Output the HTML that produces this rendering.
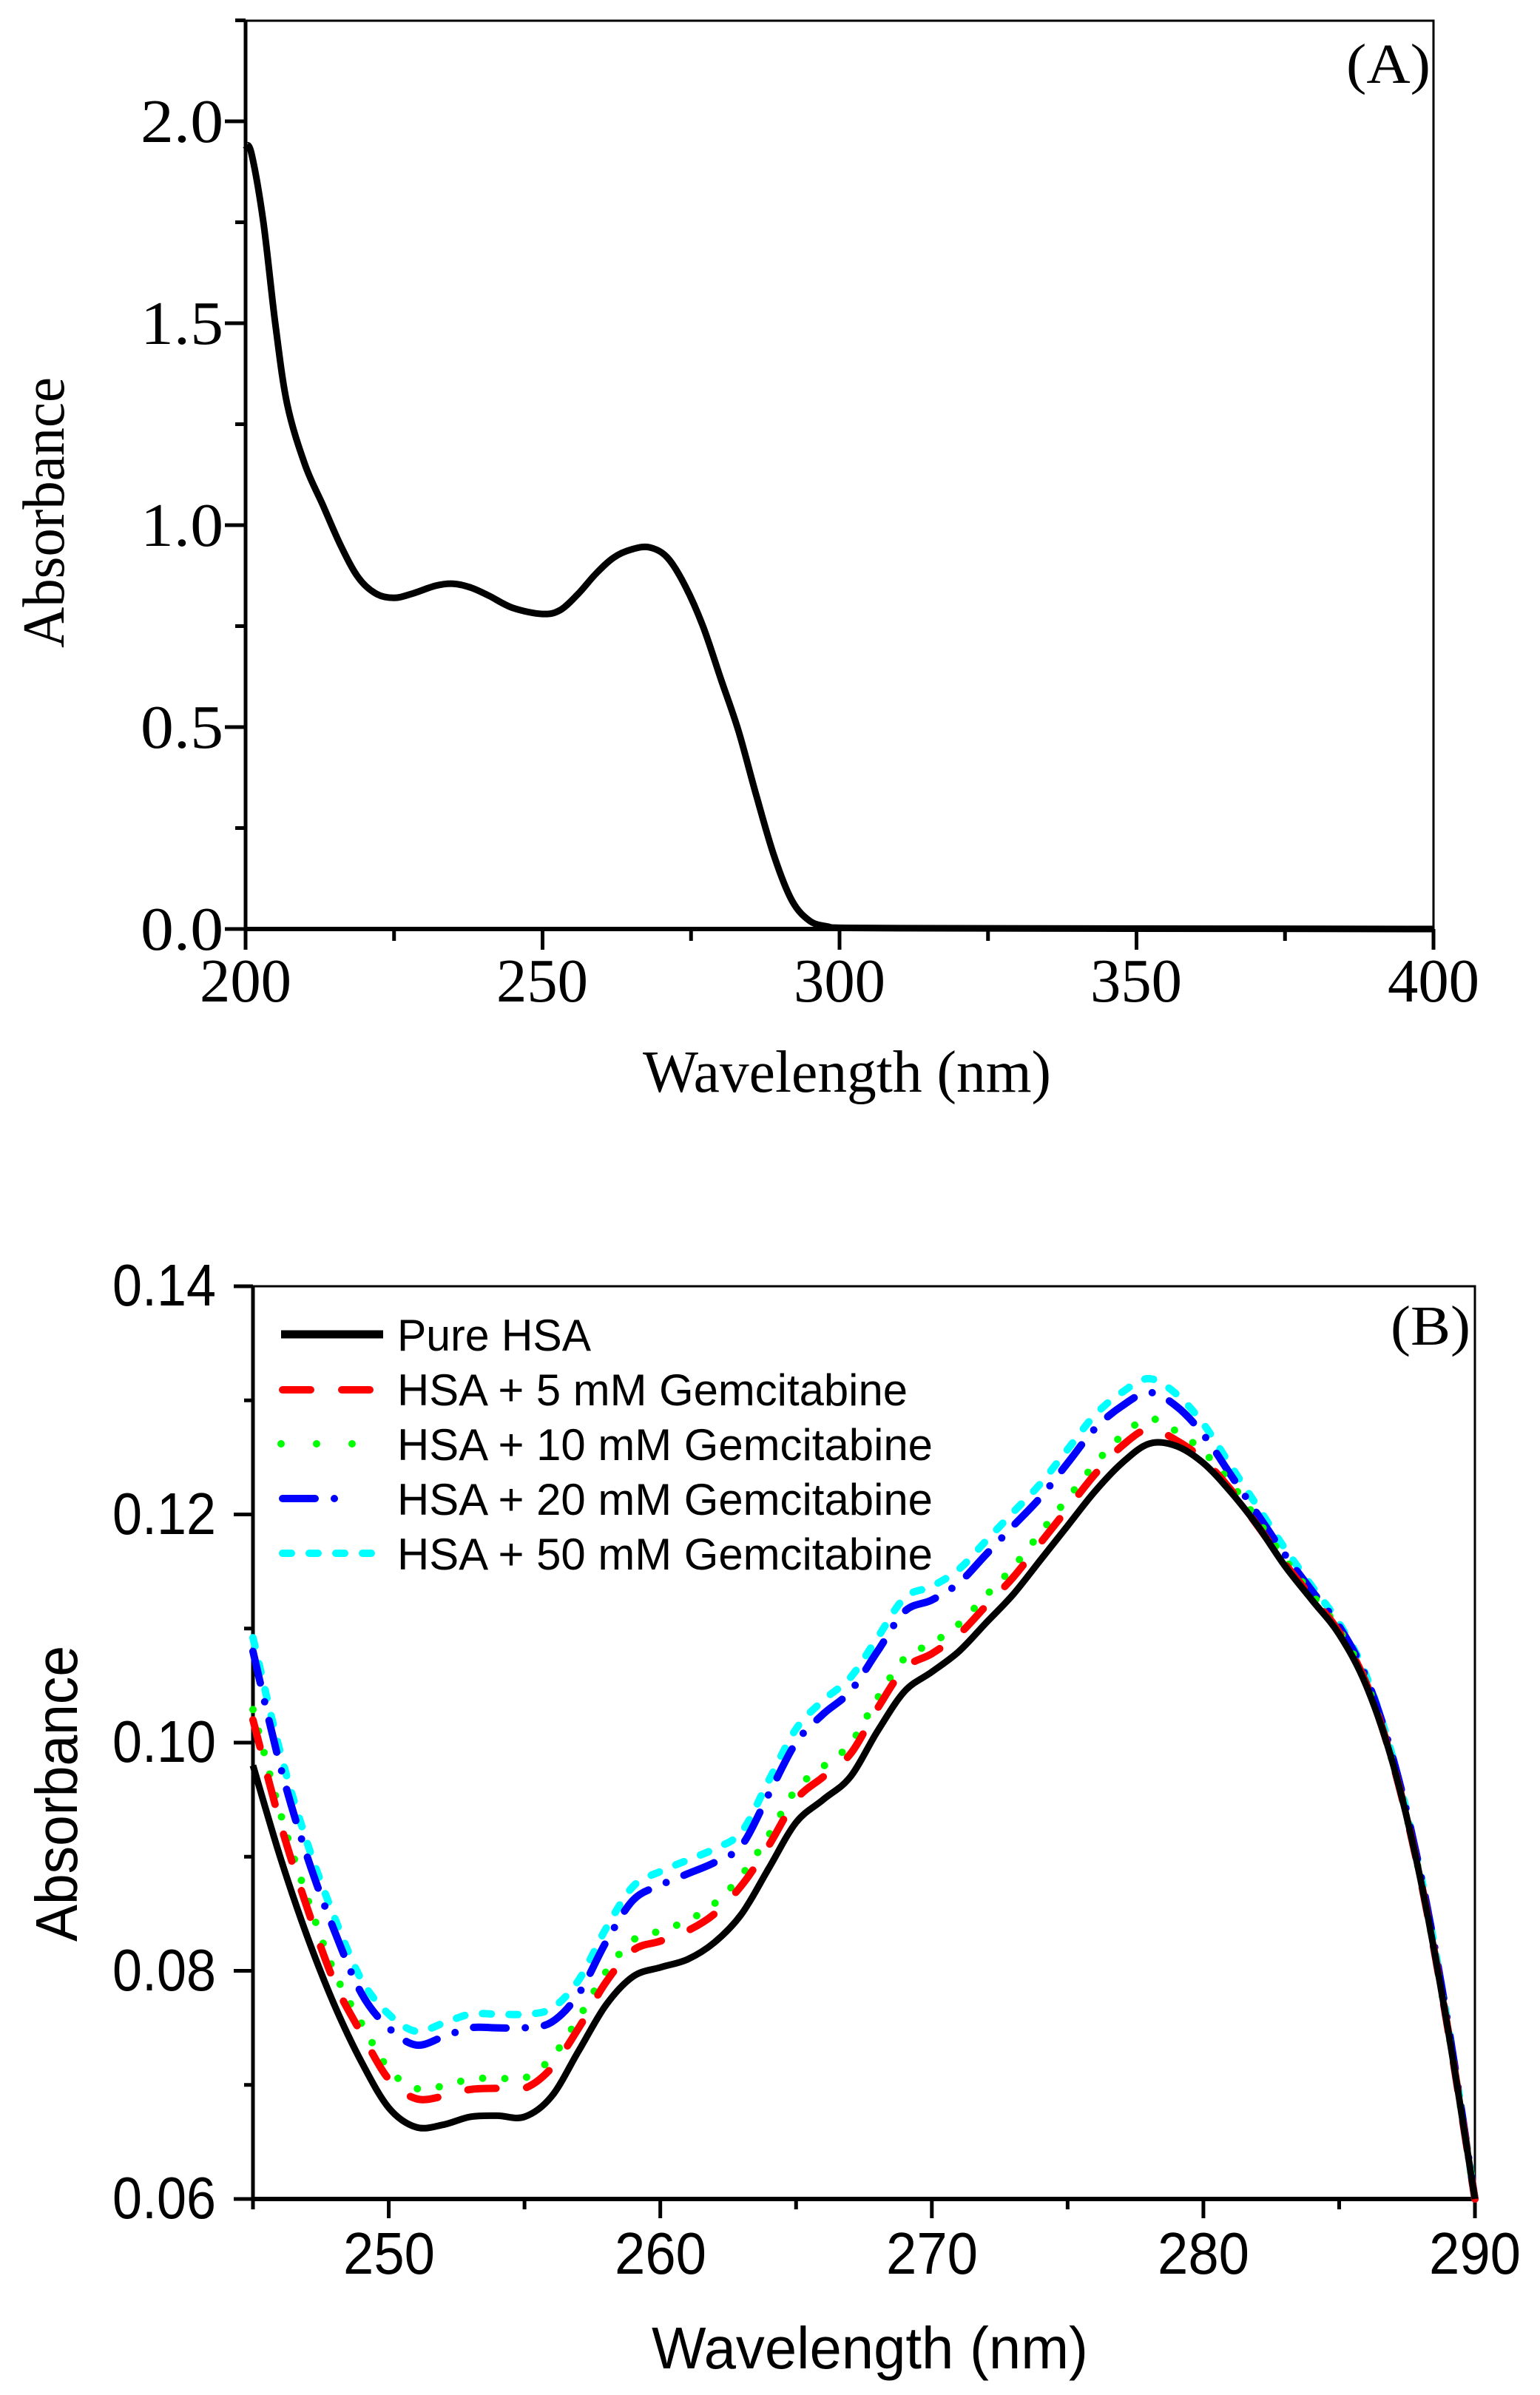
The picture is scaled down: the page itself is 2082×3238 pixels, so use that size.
<!DOCTYPE html>
<html><head><meta charset="utf-8"><style>
html,body{margin:0;padding:0;background:#fff;}
svg{display:block;}
.tm{font-family:"Liberation Serif",serif;fill:#000;}
.ar{font-family:"Liberation Sans",sans-serif;fill:#000;}
</style></head><body>
<svg id="s" width="2082" height="3238" viewBox="0 0 2082 3238" xmlns="http://www.w3.org/2000/svg">
<rect width="2082" height="3238" fill="#fff"/>
<g id="A">
<rect x="332" y="28" width="1606" height="1228" fill="none" stroke="#000" stroke-width="3"/>
<line x1="332" y1="1256" x2="1938" y2="1256" stroke="#000" stroke-width="6"/>
<line x1="332" y1="28" x2="332" y2="1256" stroke="#000" stroke-width="5"/>
<g class="tm" font-size="84" text-anchor="end">
<text x="302" y="1284" textLength="112" lengthAdjust="spacingAndGlyphs">0.0</text>
<text x="302" y="1011" textLength="112" lengthAdjust="spacingAndGlyphs">0.5</text>
<text x="302" y="738" textLength="112" lengthAdjust="spacingAndGlyphs">1.0</text>
<text x="302" y="465" textLength="112" lengthAdjust="spacingAndGlyphs">1.5</text>
<text x="302" y="192" textLength="112" lengthAdjust="spacingAndGlyphs">2.0</text>
</g>
<g class="tm" font-size="84" text-anchor="middle">
<text x="332" y="1354" textLength="124" lengthAdjust="spacingAndGlyphs">200</text>
<text x="733" y="1354" textLength="124" lengthAdjust="spacingAndGlyphs">250</text>
<text x="1135" y="1354" textLength="124" lengthAdjust="spacingAndGlyphs">300</text>
<text x="1536" y="1354" textLength="124" lengthAdjust="spacingAndGlyphs">350</text>
<text x="1938" y="1354" textLength="124" lengthAdjust="spacingAndGlyphs">400</text>
</g>
<text class="tm" font-size="80" x="1145" y="1476" text-anchor="middle" textLength="552" lengthAdjust="spacingAndGlyphs">Wavelength (nm)</text>
<text class="tm" font-size="80" transform="translate(86,693) rotate(-90)" text-anchor="middle" textLength="366" lengthAdjust="spacingAndGlyphs">Absorbance</text>
<text class="tm" font-size="76" x="1934" y="112" text-anchor="end" textLength="114" lengthAdjust="spacingAndGlyphs">(A)</text>
</g>
<g id="B">
<rect x="342" y="1739" width="1652" height="1234" fill="none" stroke="#000" stroke-width="3"/>
<line x1="342" y1="2973" x2="1994" y2="2973" stroke="#000" stroke-width="6"/>
<line x1="342" y1="1739" x2="342" y2="2973" stroke="#000" stroke-width="5"/>
<g class="ar" font-size="80" text-anchor="end">
<text x="292" y="2999" textLength="140" lengthAdjust="spacingAndGlyphs">0.06</text>
<text x="292" y="2691" textLength="140" lengthAdjust="spacingAndGlyphs">0.08</text>
<text x="292" y="2382" textLength="140" lengthAdjust="spacingAndGlyphs">0.10</text>
<text x="292" y="2074" textLength="140" lengthAdjust="spacingAndGlyphs">0.12</text>
<text x="292" y="1765" textLength="140" lengthAdjust="spacingAndGlyphs">0.14</text>
</g>
<g class="ar" font-size="80" text-anchor="middle">
<text x="526" y="3074" textLength="124" lengthAdjust="spacingAndGlyphs">250</text>
<text x="893" y="3074" textLength="124" lengthAdjust="spacingAndGlyphs">260</text>
<text x="1260" y="3074" textLength="124" lengthAdjust="spacingAndGlyphs">270</text>
<text x="1627" y="3074" textLength="124" lengthAdjust="spacingAndGlyphs">280</text>
<text x="1994" y="3074" textLength="124" lengthAdjust="spacingAndGlyphs">290</text>
</g>
<text class="ar" font-size="80" x="1176" y="3202" text-anchor="middle" textLength="590" lengthAdjust="spacingAndGlyphs">Wavelength (nm)</text>
<text class="ar" font-size="80" transform="translate(104,2425) rotate(-90)" text-anchor="middle" textLength="400" lengthAdjust="spacingAndGlyphs">Absorbance</text>
<text class="tm" font-size="76" x="1988" y="1818" text-anchor="end" textLength="108" lengthAdjust="spacingAndGlyphs">(B)</text>
<g class="ar" font-size="60">
<text x="537" y="1826" textLength="262" lengthAdjust="spacingAndGlyphs">Pure HSA</text>
<text x="537" y="1900" textLength="690" lengthAdjust="spacingAndGlyphs">HSA + 5 mM Gemcitabine</text>
<text x="537" y="1974" textLength="724" lengthAdjust="spacingAndGlyphs">HSA + 10 mM Gemcitabine</text>
<text x="537" y="2048" textLength="724" lengthAdjust="spacingAndGlyphs">HSA + 20 mM Gemcitabine</text>
<text x="537" y="2122" textLength="724" lengthAdjust="spacingAndGlyphs">HSA + 50 mM Gemcitabine</text>
</g>
<g stroke-width="10" fill="none" stroke-linecap="round">
<line x1="380" y1="1804" x2="518" y2="1804" stroke="#000" stroke-linecap="butt" stroke-width="11"/>
<line x1="382" y1="1879" x2="518" y2="1879" stroke="#f00" stroke-dasharray="38,42"/>
<line x1="380" y1="1952" x2="520" y2="1952" stroke="#0f0" stroke-dasharray="0,48"/>
<line x1="382" y1="2026" x2="520" y2="2026" stroke="#00f" stroke-dasharray="44,26,0,200"/>
<line x1="382" y1="2100" x2="506" y2="2100" stroke="#0ff" stroke-dasharray="12,24"/>
</g>
</g>
<g id="dyn"></g>
</svg>
<script>
(function(){
var NS="http://www.w3.org/2000/svg",g=document.getElementById('dyn');
function el(n,a){var e=document.createElementNS(NS,n);for(var k in a)e.setAttribute(k,a[k]);g.appendChild(e);return e;}
function path(pts){var d="M"+pts[0][0].toFixed(1)+","+pts[0][1].toFixed(1);
for(var i=0;i<pts.length-1;i++){var p0=pts[i-1]||pts[i],p1=pts[i],p2=pts[i+1],p3=pts[i+2]||p2;
var c1=[p1[0]+(p2[0]-p0[0])/6,p1[1]+(p2[1]-p0[1])/6],c2=[p2[0]-(p3[0]-p1[0])/6,p2[1]-(p3[1]-p1[1])/6];
d+="C"+c1[0].toFixed(1)+","+c1[1].toFixed(1)+" "+c2[0].toFixed(1)+","+c2[1].toFixed(1)+" "+p2[0].toFixed(1)+","+p2[1].toFixed(1);}
return d;}
var i;
for(i=0;i<=8;i++){var x=332+i*200.75;el('line',{x1:x,y1:1256,x2:x,y2:i%2?1272:1284,stroke:'#000','stroke-width':5});}
for(i=0;i<=9;i++){var y=1256-i*136.5;el('line',{x1:332,y1:y,x2:i%2?318:304,y2:y,stroke:'#000','stroke-width':5});}
var A=[[200,1.94],[201,1.92],[203,1.75],[205,1.5],[207,1.3],[210,1.15],[213,1.05],[216,0.95],[219,0.87],[222,0.83],[225,0.82],[228,0.83],[232,0.85],[235,0.855],[238,0.845],[241,0.825],[245,0.795],[250,0.78],[253,0.79],[256,0.83],[259,0.88],[262,0.92],[265,0.94],[268,0.945],[271,0.92],[274,0.85],[277,0.75],[280,0.62],[283,0.49],[286,0.33],[289,0.18],[292,0.07],[295,0.02],[298,0.006],[300,0.003],[310,0.002],[350,0.001],[400,0.0]];
el('path',{d:path(A.map(function(p){return [332+(p[0]-200)*8.03,1256-p[1]*546];})),fill:'none',stroke:'#000','stroke-width':9,'stroke-linejoin':'round'});
for(i=0;i<=9;i++){var x2=342+i*183.56;el('line',{x1:x2,y1:2973,x2:x2,y2:i%2?2999:2987,stroke:'#000','stroke-width':5});}
for(i=0;i<=8;i++){var y2=2973-i*154.25;el('line',{x1:342,y1:y2,x2:i%2?330:316,y2:y2,stroke:'#000','stroke-width':5});}
var blk=[0.098,0.090,0.083,0.077,0.072,0.068,0.0663,0.0665,0.0672,0.0673,0.0672,0.069,0.073,0.077,0.0795,0.0803,0.081,0.0825,0.085,0.089,0.093,0.095,0.097,0.101,0.1045,0.1062,0.108,0.1105,0.113,0.116,0.119,0.122,0.1245,0.1262,0.126,0.1245,0.122,0.119,0.1155,0.1125,0.1095,0.105,0.098,0.088,0.075,0.060];
var red=[0.102,0.093,0.0855,0.079,0.0745,0.0705,0.0688,0.069,0.0696,0.0697,0.0697,0.0715,0.075,0.079,0.0818,0.0826,0.0835,0.085,0.0875,0.091,0.095,0.097,0.099,0.103,0.1065,0.1078,0.1095,0.112,0.1145,0.1175,0.1205,0.1235,0.126,0.1275,0.1265,0.1248,0.1222,0.119,0.1157,0.1127,0.1097,0.1052,0.098,0.088,0.075,0.060];
var blu=[0.108,0.098,0.090,0.0835,0.078,0.075,0.0735,0.0742,0.075,0.075,0.075,0.0755,0.078,0.0825,0.0862,0.0875,0.0885,0.0895,0.091,0.0955,0.1,0.1025,0.1045,0.108,0.1115,0.1125,0.114,0.1165,0.119,0.1215,0.1245,0.1275,0.1295,0.1307,0.1295,0.127,0.1235,0.12,0.1165,0.1133,0.1102,0.1057,0.0985,0.0885,0.0755,0.060];
function tap(a,d){return a.map(function(v,k){var f=k<=33?1:Math.max(0,(42-k)/9);return v+d*f;});}
var grn=tap(red,0.0009),cyn=tap(blu,0.0012);
function pts(a){return a.map(function(v,k){return [342+k*36.71,2973-(v-0.06)*15425];});}
var S=[[cyn,'#0ff','12,24'],[blu,'#00f','44,26,0,26'],[grn,'#0f0','0,30'],[red,'#f00','38,42'],[blk,'#000','']];
S.forEach(function(s){var a={d:path(pts(s[0])),fill:'none',stroke:s[1],'stroke-width':s[1]=='#000'?9:10,'stroke-linecap':s[1]=='#000'?'butt':'round','stroke-linejoin':'round'};if(s[2])a['stroke-dasharray']=s[2];el('path',a);});
})();
</script>
</body></html>
